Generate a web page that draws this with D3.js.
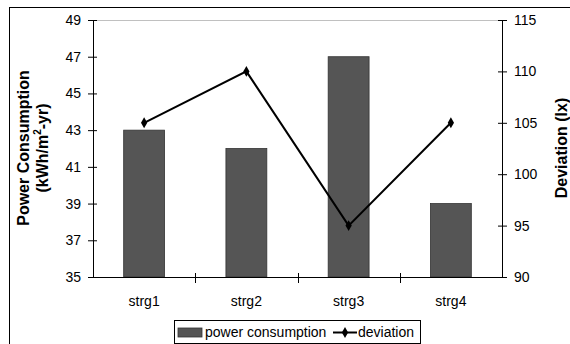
<!DOCTYPE html>
<html>
<head>
<meta charset="utf-8">
<script src="https://cdn.jsdelivr.net/npm/d3@7"></script>
<style>
  body { margin: 0; background: #fff; }
  svg text { font-family: "Liberation Sans", Arial, sans-serif; fill: #000; }
</style>
</head>
<body>
<div id="chart"></div>
<script>
// Chart data
const categories = ['strg1', 'strg2', 'strg3', 'strg4'];
const powerConsumption = [43, 42, 47, 39];
const deviation = [105, 110, 95, 105];
const leftTicks = [35, 37, 39, 41, 43, 45, 47, 49];
const rightTicks = [90, 95, 100, 105, 110, 115];

const width = 570, height = 344;
const plot = { left: 93, right: 502, top: 20, bottom: 277 };
const fontSize = 14;

const svg = d3.select('#chart').append('svg')
    .attr('width', width)
    .attr('height', height);

// outer chart border (right and bottom edges fall outside the picture)
svg.append('rect')
    .attr('x', 9.5).attr('y', 7.5)
    .attr('width', 600).attr('height', 400)
    .attr('fill', 'none')
    .attr('stroke', '#000')
    .attr('stroke-width', 1);

const xScale = d3.scaleBand()
    .domain(categories)
    .range([plot.left, plot.right]);

const yLeft = d3.scaleLinear()
    .domain([35, 49])
    .range([plot.bottom, plot.top]);

const yRight = d3.scaleLinear()
    .domain([90, 115])
    .range([plot.bottom, plot.top]);

// top border of the plot area
svg.append('line')
    .attr('x1', plot.left).attr('x2', plot.right)
    .attr('y1', plot.top + 0.5).attr('y2', plot.top + 0.5)
    .attr('stroke', '#c0c0c0');

// bars
const barWidth = xScale.bandwidth() * 0.4;
svg.append('g')
    .selectAll('rect')
    .data(categories)
    .join('rect')
    .attr('x', d => xScale(d) + (xScale.bandwidth() - barWidth) / 2)
    .attr('y', (d, i) => yLeft(powerConsumption[i]))
    .attr('width', barWidth)
    .attr('height', (d, i) => plot.bottom - yLeft(powerConsumption[i]))
    .attr('fill', '#555555')
    .attr('stroke', '#333')
    .attr('stroke-width', 0.8);

// axes
const styleAxis = g => {
    g.select('.domain').attr('stroke', '#000');
    g.selectAll('.tick line').attr('stroke', '#000');
    g.selectAll('.tick text').attr('font-size', fontSize).attr('fill', '#000');
};

const leftAxis = svg.append('g')
    .attr('transform', `translate(${plot.left},0)`)
    .call(d3.axisLeft(yLeft).tickValues(leftTicks).tickSizeOuter(0).tickSize(5).tickPadding(7))
    .call(styleAxis);
leftAxis.selectAll('.tick line').attr('x1', -5).attr('x2', 4);

const rightAxis = svg.append('g')
    .attr('transform', `translate(${plot.right},0)`)
    .call(d3.axisRight(yRight).tickValues(rightTicks).tickSizeOuter(0).tickSize(5).tickPadding(7))
    .call(styleAxis);
rightAxis.selectAll('.tick line').attr('x1', -4).attr('x2', 5);

// category axis with ticks between the bands
const bottomAxis = svg.append('g')
    .attr('transform', `translate(0,${plot.bottom})`);
bottomAxis.append('line')
    .attr('x1', plot.left).attr('x2', plot.right)
    .attr('y1', 0.5).attr('y2', 0.5)
    .attr('stroke', '#000');
bottomAxis.selectAll('.sep')
    .data(categories.slice(1))
    .join('line')
    .attr('class', 'sep')
    .attr('x1', d => Math.round(xScale(d)) + 0.5)
    .attr('x2', d => Math.round(xScale(d)) + 0.5)
    .attr('y1', -4).attr('y2', 6)
    .attr('stroke', '#000');
bottomAxis.selectAll('.cat')
    .data(categories)
    .join('text')
    .attr('class', 'cat')
    .attr('x', d => xScale(d) + xScale.bandwidth() / 2)
    .attr('y', 29)
    .attr('text-anchor', 'middle')
    .attr('font-size', fontSize)
    .text(d => d);

// deviation line
const line = d3.line()
    .x((d, i) => xScale(categories[i]) + xScale.bandwidth() / 2)
    .y(d => yRight(d));

svg.append('path')
    .datum(deviation)
    .attr('fill', 'none')
    .attr('stroke', '#000')
    .attr('stroke-width', 2)
    .attr('d', line);

const diamond = d3.symbol().type(d3.symbolDiamond).size(34);
svg.append('g')
    .selectAll('path')
    .data(deviation)
    .join('path')
    .attr('transform', (d, i) => `translate(${xScale(categories[i]) + xScale.bandwidth() / 2},${yRight(d)})`)
    .attr('d', diamond)
    .attr('fill', '#000');

// axis titles
const leftTitle = svg.append('text')
    .attr('transform', 'translate(29,148) rotate(-90)')
    .attr('text-anchor', 'middle')
    .attr('font-size', 16)
    .attr('font-weight', 'bold');
leftTitle.append('tspan').attr('x', 0).attr('dy', 0).text('Power Consumption');
const t2 = leftTitle.append('tspan').attr('x', 0).attr('dy', 19);
t2.append('tspan').text('(kWh/m');
t2.append('tspan').attr('font-size', 10).attr('dy', -7).text('2');
t2.append('tspan').attr('dy', 7).text('-yr)');

svg.append('text')
    .attr('transform', 'translate(567,148) rotate(-90)')
    .attr('text-anchor', 'middle')
    .attr('font-size', 16)
    .attr('font-weight', 'bold')
    .text('Deviation (lx)');

// legend
const legend = svg.append('g').attr('transform', 'translate(174,320)');
legend.append('rect')
    .attr('x', 0.5).attr('y', 0.5)
    .attr('width', 246).attr('height', 23)
    .attr('fill', '#fff')
    .attr('stroke', '#000');
legend.append('rect')
    .attr('x', 4).attr('y', 8)
    .attr('width', 24).attr('height', 9)
    .attr('fill', '#555555')
    .attr('stroke', '#333')
    .attr('stroke-width', 0.8);
legend.append('text')
    .attr('x', 31).attr('y', 17)
    .attr('font-size', fontSize)
    .text('power consumption');
legend.append('line')
    .attr('x1', 159).attr('x2', 183)
    .attr('y1', 12.5).attr('y2', 12.5)
    .attr('stroke', '#000')
    .attr('stroke-width', 2);
legend.append('path')
    .attr('transform', 'translate(171,12.5)')
    .attr('d', diamond)
    .attr('fill', '#000');
legend.append('text')
    .attr('x', 184).attr('y', 17)
    .attr('font-size', fontSize)
    .text('deviation');
</script>
</body>
</html>
